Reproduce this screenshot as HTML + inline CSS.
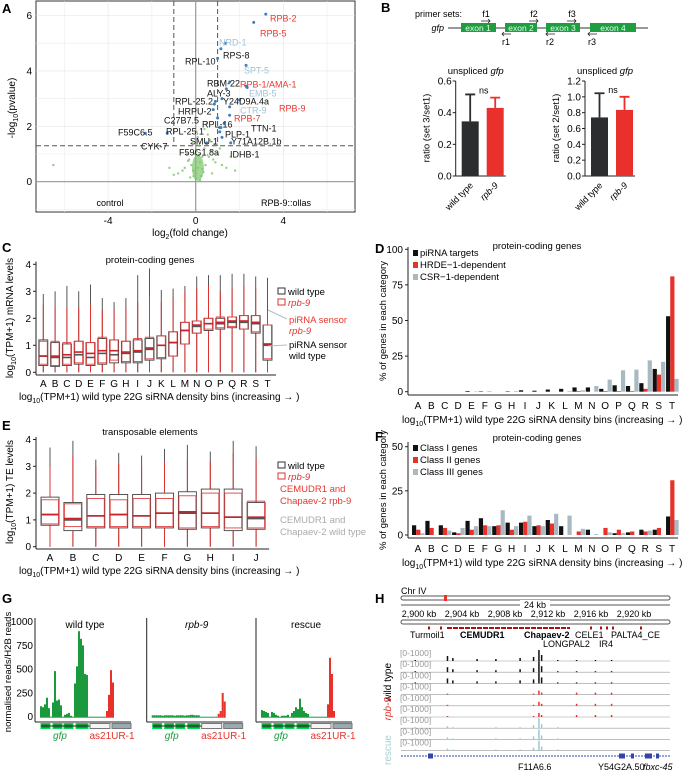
<!DOCTYPE html>
<html><head><meta charset="utf-8"><style>
body{margin:0;background:#fff}
svg{display:block;font-family:"Liberation Sans",Arial,sans-serif}
</style></head><body>
<svg id="fig" width="683" height="772" viewBox="0 0 683 772" xmlns="http://www.w3.org/2000/svg">
<g font-weight="bold" font-size="13">
<text x="2" y="13">A</text><text x="381" y="12">B</text><text x="2" y="252">C</text><text x="375" y="253">D</text><text x="2" y="430">E</text><text x="375" y="441">F</text><text x="2" y="603">G</text><text x="375" y="603">H</text>
</g>
<g>
<rect x="36" y="1" width="319" height="211" fill="none" stroke="#333" stroke-width="1"/>
<g id="Agrid" stroke="#ececec" stroke-width="0.6"></g>
<text x="190" y="236" font-size="10" text-anchor="middle">log<tspan font-size="7" dy="3">2</tspan><tspan dy="-3">(fold change)</tspan></text>
<text transform="translate(15,108) rotate(-90)" font-size="10" text-anchor="middle">-log<tspan font-size="7" dy="3">10</tspan><tspan dy="-3">(pvalue)</tspan></text>
<text x="110" y="206" font-size="9" text-anchor="middle">control</text>
<text x="286" y="206" font-size="9" text-anchor="middle">RPB-9::ollas</text>
<g id="Amarks"></g>
</g>
<g font-size="9">
<text x="415" y="17">primer sets:</text>
<text x="444" y="31" font-style="italic" text-anchor="end">gfp</text>
<line x1="448" y1="28" x2="648" y2="28" stroke="#333"/>
<rect x="461" y="23" width="35" height="9" fill="#1e9e3e"/><text x="478" y="31" fill="#dfe" text-anchor="middle" font-size="8.5">exon 1</text>
<rect x="505" y="23" width="32" height="9" fill="#1e9e3e"/><text x="521" y="31" fill="#dfe" text-anchor="middle" font-size="8.5">exon 2</text>
<rect x="546" y="23" width="34" height="9" fill="#1e9e3e"/><text x="563" y="31" fill="#dfe" text-anchor="middle" font-size="8.5">exon 3</text>
<rect x="590" y="23" width="46" height="9" fill="#1e9e3e"/><text x="613" y="31" fill="#dfe" text-anchor="middle" font-size="8.5">exon 4</text>
<text x="486" y="17" text-anchor="middle">f1</text><text x="534" y="17" text-anchor="middle">f2</text><text x="572" y="17" text-anchor="middle">f3</text>
<text x="506" y="45" text-anchor="middle">r1</text><text x="550" y="45" text-anchor="middle">r2</text><text x="592" y="45" text-anchor="middle">r3</text>
<path d="M481 21h9m-2-2l2 2-2 2M529 21h9m-2-2l2 2-2 2M567 21h9m-2-2l2 2-2 2M502 34h9m-7-2l-2 2 2 2M546 34h9m-7-2l-2 2 2 2M588 34h9m-7-2l-2 2 2 2" stroke="#222" fill="none" stroke-width="0.8"/>
</g>
<g id="Bcharts" font-size="9"></g>
<g id="Cplot" font-size="9"></g>
<g id="Eplot" font-size="9"></g>
<g id="Dplot" font-size="9"></g>
<g id="Fplot" font-size="9"></g>
<g id="Gplot" font-size="9"></g>
<g id="Hplot" font-size="8"></g>
</svg>
<script>
const NS='http://www.w3.org/2000/svg';
function mk(parent,tag,a,txt){const e=document.createElementNS(NS,tag);for(const k in a)e.setAttribute(k,a[k]);if(txt!==undefined)e.textContent=txt;parent.appendChild(e);return e;}
const $=id=>document.getElementById(id);

const volcLabeledFC=[3.2,2.65,1.35,1.15,1.0,2.3,1.55,2.3,1.4,2.35,1.2,2.0,1.55,1.55,1.0,1.3,1.15,1.1,1.1,1.2,1.6,0.5,-1.3,-2.3,0.9,0.85,0.8];
const volcLabeledP=[6.05,5.75,5.0,4.8,4.45,4.2,3.6,3.45,3.35,3.4,3.0,2.95,2.7,2.4,2.3,2.1,1.95,1.95,1.8,1.6,1.4,1.4,1.75,1.75,2.9,2.8,2.6];
const volcLabeledCol=['r','r','b','k','k','b','k','r','k','b','k','r','b','r','k','k','k','k','k','k','k','k','k','k','k','k','k'];
const volcCloudFC=[0,0.1,-0.1,0.2,-0.2,0.3,-0.3,0.05,0.15,-0.05,0.4,-0.4,0.5,-0.5,0.6,0.7,0.8,-0.6,0.25,-0.25,0.35,0.1,-0.15,0.45,0.9,1.0,1.2,-0.8,0.55,0.65,0.0,0.2,-0.1,0.3,0.75,1.4,-1.0,1.1,0.85,-0.35,0.15,0.05,0.4,-6.5,1.6,1.8,-1.2,0.5];
const volcCloudP=[0.3,0.5,0.4,0.7,0.6,0.9,0.8,1.1,1.3,1.0,1.2,1.0,1.4,0.5,0.9,1.1,0.8,0.4,0.2,0.15,0.35,1.6,1.4,0.6,0.7,1.0,0.6,0.3,1.7,1.5,0.1,0.05,0.2,0.45,0.3,0.5,0.25,1.2,1.35,0.75,0.95,1.8,1.9,0.6,0.9,0.4,0.5,2.1];
const volcXTicks=[-4,0,4];const volcYTicks=[0,2,4,6];
const labelTexts=['RPB-2','RPB-5','NRD-1','RPS-8','RPL-10','SPT-5','RBM-22','RPB-1/AMA-1','ALY-3','EMB-5','Y24D9A.4a','RPB-9','CTR-9','RPB-7','RPL-16','TTN-1','PLP-1','RPL-25.1','SMU-1','Y71A12B.1b','IDHB-1','F59G1.8a','CYK-7','F59C6.5','RPL-25.2','HRPU-2','C27B7.5'];
const labelPos=[[270,18],[260,33],[219,42],[223,55],[185,61],[244,70],[207,83],[240,84],[207,93],[249,93],[223,101],[279,108],[240,110],[234,118],[202,124],[251,128],[225,134],[166,131],[190,141],[231,141],[230,154],[179,152],[141,146],[118,132],[175,101],[178,111],[164,120]];
const ax=x=>195.7+21.9*x, ay=y=>181.7-27.7*y;
const colMap={r:'#e8372f',b:'#9ec3dc',k:'#111'};
(function(){
 const g=$('Agrid'),m=$('Amarks');
 [-6,-2,2,6].forEach(v=>mk(g,'line',{x1:ax(v),x2:ax(v),y1:1,y2:212}));
 [-1,1,3,5].forEach(v=>mk(g,'line',{x1:36,x2:355,y1:ay(v),y2:ay(v)}));
 volcXTicks.forEach(v=>{mk(g,'line',{x1:ax(v),x2:ax(v),y1:1,y2:212,stroke:'#e4e4e4'});const t=mk(m,'text',{x:ax(v),y:224,'text-anchor':'middle','font-size':10},v);});
 volcYTicks.forEach(v=>{mk(g,'line',{x1:36,x2:355,y1:ay(v),y2:ay(v),stroke:'#e4e4e4'});const t=mk(m,'text',{x:32,y:ay(v)+3.5,'text-anchor':'end','font-size':10},v);});
 mk(m,'line',{x1:ax(0),x2:ax(0),y1:1,y2:212,stroke:'#999','stroke-width':1.2});
 mk(m,'line',{x1:36,x2:355,y1:ay(0),y2:ay(0),stroke:'#999','stroke-width':1.2});
 [-1,1].forEach(v=>mk(m,'line',{x1:ax(v),x2:ax(v),y1:1,y2:ay(1.3),stroke:'#555','stroke-dasharray':'5,3'}));
 mk(m,'line',{x1:36,x2:355,y1:ay(1.3),y2:ay(1.3),stroke:'#555','stroke-dasharray':'5,3'});
 mk(m,'ellipse',{cx:ax(0.1),cy:ay(0.5),rx:6,ry:13,fill:'#7cc46a',opacity:0.7});
 volcCloudFC.forEach((v,i)=>{const c=mk(m,'circle',{cx:ax(v),cy:ay(volcCloudP[i]),r:1.2,fill:'#7cc46a',opacity:0.8});
  
  });
 volcLabeledFC.forEach((v,i)=>{const c=mk(m,'circle',{cx:ax(v),cy:ay(volcLabeledP[i]),r:1.5,fill:'#3d7fc0'});
  
  });
 labelTexts.forEach((s,i)=>{const t=mk(m,'text',{x:labelPos[i][0],y:labelPos[i][1]+3.5,'font-size':9,fill:colMap[volcLabeledCol[i]]},s);
  
  });
})();

const bSamples=['wild type','rpb-9'];
const bMean1=[0.345,0.43], bErr1=[0.515,0.495];
const bMean2=[0.74,0.835], bErr2=[1.045,1.0];
const bTicks1=['0.0','0.2','0.4','0.6'], bTicks2=['0.0','0.2','0.4','0.6','0.8','1.0','1.2'];
(function(){
 const g=$('Bcharts');
 function chart(x0,max,ticks,means,errs,ylab){
  const by=v=>176-v/max*95;
  mk(g,'line',{x1:x0,x2:x0,y1:by(max),y2:176,stroke:'#222'});
  mk(g,'line',{x1:x0,x2:x0+50,y1:176,y2:176,stroke:'#222'});
  ticks.forEach(t=>{mk(g,'line',{x1:x0-3,x2:x0,y1:by(+t),y2:by(+t),stroke:'#222'});mk(g,'text',{x:x0-4,y:by(+t)+3.5,'text-anchor':'end','font-size':10},t);});
  means.forEach((v,i)=>{const bx=x0+6+i*25,col=i?'#e8312a':'#2b2d2e';
   const r=mk(g,'rect',{x:bx,y:by(v),width:17,height:176-by(v),fill:col});
   
   
   mk(g,'path',{d:`M${bx+8.5} ${by(v)}V${by(errs[i])}m-5 0h10`,stroke:col,'stroke-width':1.8,fill:'none'});
   mk(g,'text',{x:bx+12,y:186,'text-anchor':'end','font-size':9,transform:`rotate(-45 ${bx+12} 186)`,'font-style':i?'italic':'normal'},bSamples[i]);
  });
  mk(g,'text',{x:x0+28,y:by(errs[1])-4,'text-anchor':'middle','font-size':9},'ns');
  const tt=mk(g,'text',{x:x0+20,y:74,'text-anchor':'middle','font-size':9.5},'unspliced ');mk(tt,'tspan',{'font-style':'italic'},'gfp');
  mk(g,'text',{x:0,y:0,transform:`translate(${x0-26},128) rotate(-90)`,'text-anchor':'middle','font-size':9.5},ylab);
 }
 chart(455.7,0.6,bTicks1,bMean1,bErr1,'ratio (set 3/set1)');
 chart(585,1.2,bTicks2,bMean2,bErr2,'ratio (set 2/set1)');
})();

const cBins=['A','B','C','D','E','F','G','H','I','J','K','L','M','N','O','P','Q','R','S','T'];
const cWtMed=[0.6,0.55,0.55,0.65,0.55,0.7,0.65,0.7,0.75,0.85,1.0,1.1,1.55,1.7,1.8,1.8,1.85,1.85,1.8,1.0];
const cWtQ1=[0.25,0.22,0.25,0.3,0.25,0.3,0.35,0.35,0.35,0.45,0.5,0.6,1.05,1.45,1.55,1.6,1.65,1.6,1.45,0.45];
const cWtQ3=[1.2,1.1,1.05,1.15,1.1,1.25,1.2,1.15,1.2,1.25,1.35,1.5,1.85,1.9,2.0,2.0,2.05,2.1,2.1,1.75];
const cWtTop=[2.9,3.0,3.2,3.0,3.25,2.75,2.6,2.75,3.6,3.85,3.05,3.1,3.2,3.55,3.6,3.6,3.65,3.65,3.55,3.5];
const cRbMed=[0.6,0.6,0.65,0.75,0.7,0.8,0.8,0.75,0.8,0.9,1.0,1.1,1.55,1.75,1.8,1.85,1.9,1.9,1.85,1.05];
const cRbQ1=[0.3,0.25,0.3,0.35,0.3,0.35,0.45,0.4,0.4,0.5,0.55,0.6,1.05,1.45,1.6,1.65,1.7,1.6,1.5,0.5];
const cRbQ3=[1.15,1.15,1.1,1.15,1.1,1.3,1.2,1.15,1.25,1.3,1.35,1.5,1.85,1.9,2.0,2.05,2.05,2.1,2.1,1.75];
const cRbTop=[2.5,2.4,2.4,2.4,2.5,2.3,2.3,2.4,2.6,2.8,2.6,2.8,3.0,3.1,3.2,3.0,3.1,3.2,3.1,2.3];
const cYTicks=[0,1,2,3,4];
const eBins=['A','B','C','D','E','F','G','H','I','J'];
const eWtMed=[1.2,1.0,1.15,1.2,1.15,1.25,1.3,1.25,1.1,1.05];
const eWtQ1=[0.8,0.6,0.7,0.7,0.7,0.7,0.65,0.7,0.6,0.65];
const eWtQ3=[1.85,1.65,1.95,1.95,1.95,2.0,2.05,2.15,2.15,1.65];
const eWtTop=[3.7,3.95,3.25,3.5,3.4,3.65,3.8,3.55,3.95,3.75];
const eRbMed=[1.2,1.05,1.15,1.2,1.15,1.25,1.25,1.25,1.1,1.1];
const eRbQ1=[0.85,0.75,0.75,0.75,0.75,0.75,0.7,0.75,0.7,0.7];
const eRbQ3=[1.75,1.6,1.8,1.75,1.8,1.8,1.9,2.0,2.0,1.7];
const eRbTop=[3.0,3.4,3.0,3.1,3.0,3.2,3.3,3.2,3.5,3.3];
function boxPlot(gid,bins,xs,ys,w,wt,rb,title,ylabel,yTop,axisY,titleY){
 const g=$(gid);
 mk(g,'line',{x1:36,x2:36,y1:ys(4.1),y2:axisY,stroke:'#222'});
 mk(g,'line',{x1:36,x2:xs(bins.length-1)+w/2+4,y1:axisY,y2:axisY,stroke:'#222'});
 cYTicks.forEach(v=>{mk(g,'line',{x1:33,x2:36,y1:ys(v),y2:ys(v),stroke:'#222'});mk(g,'text',{x:31,y:ys(v)+3.5,'text-anchor':'end','font-size':10},v);});
 bins.forEach((b,i)=>{
  const x=xs(i);
  const l=mk(g,'text',{x:x,y:axisY+12,'text-anchor':'middle','font-size':10},b);
  
  
  mk(g,'line',{x1:x,x2:x,y1:ys(0),y2:ys(wt[3][i]),stroke:'#555','stroke-width':1});
  mk(g,'line',{x1:x,x2:x,y1:ys(0),y2:ys(rb[3][i]),stroke:'#d33','stroke-width':1});
  const bw=mk(g,'rect',{x:x-w/2,y:ys(wt[2][i]),width:w,height:ys(wt[1][i])-ys(wt[2][i]),fill:'#fff',stroke:'#444','stroke-width':0.9});
  
  
  const br=mk(g,'rect',{x:x-w/2+0.5,y:ys(rb[2][i]),width:w-1,height:ys(rb[1][i])-ys(rb[2][i]),fill:'none',stroke:'#e04040','stroke-width':0.9});
  
  
  mk(g,'line',{x1:x-w/2,x2:x+w/2,y1:ys(wt[0][i]),y2:ys(wt[0][i]),stroke:'#555','stroke-width':1.6});
  mk(g,'line',{x1:x-w/2,x2:x+w/2,y1:ys(rb[0][i]),y2:ys(rb[0][i]),stroke:'#c8232a','stroke-width':1.6});
 });
 mk(g,'text',{x:150,y:titleY,'text-anchor':'middle','font-size':9.5},title);
 const xl=mk(g,'text',{x:19,y:axisY+25,'font-size':10},'log');mk(xl,'tspan',{'font-size':7,dy:3},'10');mk(xl,'tspan',{dy:-3},'(TPM+1) wild type 22G siRNA density bins (increasing \u2192 )');
 const yl=mk(g,'text',{transform:`translate(13,${yTop}) rotate(-90)`,'text-anchor':'middle','font-size':10},'log');mk(yl,'tspan',{'font-size':7,dy:3},'10');mk(yl,'tspan',{dy:-3},ylabel);
}
boxPlot('Cplot',cBins,i=>43.3+i*11.8,v=>372.3-27*v,9,[cWtMed,cWtQ1,cWtQ3,cWtTop],[cRbMed,cRbQ1,cRbQ3,cRbTop],'protein-coding genes','(TPM+1) mRNA levels',318,375,263);
boxPlot('Eplot',eBins,i=>50+i*22.9,v=>546.7-26.8*v,18,[eWtMed,eWtQ1,eWtQ3,eWtTop],[eRbMed,eRbQ1,eRbQ3,eRbTop],'transposable elements','(TPM+1) TE levels',492,549,435);
(function(){
 const g=$('Cplot');
 mk(g,'rect',{x:278,y:288,width:7,height:6,fill:'none',stroke:'#333'});mk(g,'text',{x:288,y:295,'font-size':9.5},'wild type');
 mk(g,'rect',{x:278,y:299,width:7,height:6,fill:'none',stroke:'#d33'});mk(g,'text',{x:288,y:306,'font-size':9.5,'font-style':'italic',fill:'#d33'},'rpb-9');
 mk(g,'text',{x:289,y:323,'font-size':9.5,fill:'#e8372f'},'piRNA sensor');mk(g,'text',{x:289,y:334,'font-size':9.5,'font-style':'italic',fill:'#e8372f'},'rpb-9');
 mk(g,'text',{x:289,y:348,'font-size':9.5},'piRNA sensor');mk(g,'text',{x:289,y:359,'font-size':9.5},'wild type');
 mk(g,'path',{d:'M268 310L287 319M268 346L287 345',stroke:'#bbb',fill:'none'});
 const e=$('Eplot');
 mk(e,'rect',{x:278,y:462,width:7,height:6,fill:'none',stroke:'#333'});mk(e,'text',{x:288,y:469,'font-size':9.5},'wild type');
 mk(e,'rect',{x:278,y:473,width:7,height:6,fill:'none',stroke:'#d33'});mk(e,'text',{x:288,y:480,'font-size':9.5,'font-style':'italic',fill:'#d33'},'rpb-9');
 mk(e,'text',{x:280,y:492,'font-size':9.5,fill:'#e8372f'},'CEMUDR1 and');mk(e,'text',{x:280,y:504,'font-size':9.5,fill:'#e8372f'},'Chapaev-2 rpb-9');
 mk(e,'text',{x:280,y:523,'font-size':9.5,fill:'#aaa'},'CEMUDR1 and');mk(e,'text',{x:280,y:535,'font-size':9.5,fill:'#aaa'},'Chapaev-2 wild type');
})();

const dBins=cBins;
const dPirna=[0,0,0,0,0.5,0.3,0,0.3,1,0.7,1.5,2,3,3,2,4.5,4,6,16,53];
const dHrde=[0,0,0,0,0,0,0,0,0,0,0,0,0.5,0,0.5,0.5,0.5,2,12,81];
const dCsr=[0,0,0,0,0.3,0.5,0,0.5,0,0,0,0.5,1,4,8.5,15,15.5,22,21,9];
const dTicks=[0,25,50,75,100];
const fClass1=[5.5,8,5.5,1.5,8,9.5,5,7,7,5,8.5,5,0,3,0,1,1.5,3,3,10.5];
const fClass2=[3,4,4,1,3,5.5,5.5,3,7.5,5.5,6.5,0,2,0,4,3,2,2,4,31];
const fClass3=[1,0,2.5,4,5,5,14,5,11,5,12,11,3.5,0.5,1.5,1,0,2.5,0,8.5];
const fTicks=[0,25,50];
function barPlot(gid,series,names,ticks,ys,axisY,topY,titleY){
 const g=$(gid),cols=['#111','#e8312a','#a9b9c2'],xs=i=>416+i*13.37;
 mk(g,'line',{x1:408,x2:408,y1:topY,y2:axisY,stroke:'#222'});
 mk(g,'line',{x1:408,x2:678,y1:axisY,y2:axisY,stroke:'#222'});
 ticks.forEach(v=>{mk(g,'line',{x1:405,x2:408,y1:ys(v),y2:ys(v),stroke:'#222'});mk(g,'text',{x:403,y:ys(v)+3.5,'text-anchor':'end','font-size':10},v);});
 dBins.forEach((b,i)=>{mk(g,'text',{x:xs(i)+2,y:axisY+14,'text-anchor':'middle','font-size':10},b);
  series.forEach((s,k)=>{const r=mk(g,'rect',{x:xs(i)-4+k*4.2,y:ys(s[i]),width:4.2,height:Math.max(0,ys(0)-ys(s[i])),fill:cols[k]});
   
   });});
 names.forEach((n,k)=>{mk(g,'rect',{x:413,y:topY+3+k*12,width:5,height:6,fill:cols[k]});mk(g,'text',{x:420,y:topY+9+k*12,'font-size':9.5},n);});
 mk(g,'text',{x:537,y:titleY,'text-anchor':'middle','font-size':9.5},'protein-coding genes');
 const xl=mk(g,'text',{x:402,y:axisY+28,'font-size':10},'log');mk(xl,'tspan',{'font-size':7,dy:3},'10');mk(xl,'tspan',{dy:-3},'(TPM+1) wild type 22G siRNA density bins (increasing \u2192 )');
 mk(g,'text',{transform:`translate(386,${(topY+axisY)/2}) rotate(-90)`,'text-anchor':'middle','font-size':9.5},'% of genes in each category');
}
barPlot('Dplot',[dPirna,dHrde,dCsr],['piRNA targets','HRDE\u22121-dependent','CSR\u22121-dependent'],dTicks,v=>391.7-1.424*v,395,247,249);
barPlot('Fplot',[fClass1,fClass2,fClass3],['Class I genes','Class II genes','Class III genes'],fTicks,v=>535-1.766*v,538,442,441);

const gWt=[110,100,130,200,90,0,150,480,170,180,120,0,20,30,40,10,0,350,530,900,820,750,450,440,0,0,0,0,0,0,0,0,0,60,230,490,360];
const gRpb9=[15,15,15,15,15,10,15,15,15,15,15,10,15,15,15,15,10,15,15,20,20,15,15,15,0,0,0,0,0,0,0,0,0,30,60,250,160];
const gRescue=[70,60,50,40,0,50,40,20,10,0,10,10,10,20,0,40,60,100,80,190,100,60,40,30,0,0,0,0,0,0,0,0,0,130,620,450,60];
const gTicks=[0,250,500,750,1000];
const gSamples=['wild type','rpb-9','rescue'];
(function(){
 const g=$('Gplot'),gy=v=>716.7-0.095*v,offs=[0,111.7,221],data=[gWt,gRpb9,gRescue];
 gTicks.forEach(v=>mk(g,'text',{x:33,y:gy(v)+3.5,'text-anchor':'end','font-size':10},v));
 mk(g,'text',{transform:'translate(11,672) rotate(-90)','text-anchor':'middle','font-size':9.5},'normalised reads/H2B reads');
 data.forEach((d,s)=>{const o=offs[s];
  mk(g,'line',{x1:35+o,x2:35+o,y1:618,y2:722,stroke:'#222'});
  mk(g,'line',{x1:35+o,x2:131+o,y1:722,y2:722,stroke:'#222'});
  mk(g,'text',{x:85+o,y:628,'text-anchor':'middle','font-size':10,'font-style':s==1?'italic':'normal'},gSamples[s]);
  d.forEach((v,i)=>{const x=40+o+i*2;const r=mk(g,'rect',{x:x,y:gy(v),width:2,height:gy(0)-gy(v)+1,fill:i>=33?'#e8312a':'#1a9a3c'});
   
   });
  [[41,50],[53,62],[64,73],[76,88]].forEach(e=>mk(g,'rect',{x:e[0]+o,y:723.5,width:e[1]-e[0],height:5,fill:'#1a9a3c',stroke:'#0d5'}));
  mk(g,'line',{x1:41+o,x2:90+o,y1:726,y2:726,stroke:'#222'});
  mk(g,'rect',{x:90+o,y:723.5,width:20,height:5,fill:'#f5f5f5',stroke:'#777'});
  mk(g,'rect',{x:112+o,y:723.5,width:19,height:5,fill:'#9aaab3',stroke:'#777'});
  mk(g,'text',{x:60+o,y:739,'font-style':'italic',fill:'#1a9a3c','font-size':10,'text-anchor':'middle'},'gfp');
  mk(g,'text',{x:112+o,y:739,fill:'#e8312a','font-size':10,'text-anchor':'middle'},'as21UR-1');
 });
})();

const hTickLabels=['2,900 kb','2,904 kb','2,908 kb','2,912 kb','2,916 kb','2,920 kb'];
const hPeakPos=[0.05,0.17,0.19,0.28,0.35,0.44,0.49,0.51,0.52,0.58,0.65,0.72,0.78];
const hWtH=[1,5,3,2,2,3,4,11,6,1,1,1,1];
const hRbH=[0,1,0,0,0,0,1,4,2,0,2,2,2];
const hResH=[1,2,1,0,1,1,3,10,4,1,0,0,0];
(function(){
 const g=$('Hplot'),x0=401,x1=670,hx=f=>x0+f*(x1-x0);
 mk(g,'text',{x:401,y:594,'font-size':9},'Chr IV');
 mk(g,'rect',{x:401,y:596,width:269,height:4,rx:2,fill:'#fff',stroke:'#555'});
 mk(g,'rect',{x:444,y:595,width:3,height:6,fill:'#e8312a'});
 mk(g,'line',{x1:401,x2:670,y1:605,y2:605,stroke:'#555'});
 mk(g,'rect',{x:520,y:600,width:30,height:9,fill:'#fff'});mk(g,'text',{x:535,y:608,'text-anchor':'middle','font-size':9},'24 kb');
 hTickLabels.forEach((t,i)=>mk(g,'text',{x:419+i*43,y:617,'text-anchor':'middle','font-size':9},t));
 mk(g,'rect',{x:401,y:620,width:269,height:4,rx:2,fill:'#fff',stroke:'#555'});
 mk(g,'line',{x1:447,x2:570,y1:628,y2:628,stroke:'#a11','stroke-width':2,'stroke-dasharray':'5,1'});
 [428,440,590,600,606,612,640].forEach(x=>mk(g,'rect',{x:x,y:626.5,width:2,height:3,fill:'#a11'}));
 mk(g,'text',{x:410,y:638,'font-size':9},'Turmoil1');mk(g,'text',{x:460,y:638,'font-size':9,'font-weight':'bold'},'CEMUDR1');
 mk(g,'text',{x:524,y:638,'font-size':9,'font-weight':'bold'},'Chapaev-2');mk(g,'text',{x:575,y:638,'font-size':9},'CELE1');mk(g,'text',{x:611,y:638,'font-size':9},'PALTA4_CE');
 mk(g,'text',{x:543,y:647,'font-size':9},'LONGPAL2');mk(g,'text',{x:599,y:647,'font-size':9},'IR4');
 const cols=['#111','#111','#111','#e8312a','#e8312a','#e8312a','#9cc9d4','#9cc9d4','#9cc9d4'];
 for(let t=0;t<9;t++){const yb=660+t*11.2;
  mk(g,'line',{x1:401,x2:670,y1:yb+1,y2:yb+1,stroke:'#999','stroke-width':0.6});
  mk(g,'text',{x:400,y:yb-4,fill:'#999','font-size':8.5},'[0-1000]');
  const hs=t<3?hWtH:(t<6?hRbH:hResH);
  hPeakPos.forEach((p,i)=>{const r=mk(g,'rect',{x:hx(p),y:yb+1-hs[i],width:1.5,height:hs[i],fill:cols[t]});
   
   });
 }
 mk(g,'text',{transform:'translate(391,663) rotate(-90)','text-anchor':'end','font-size':10},'wild type');
 mk(g,'text',{transform:'translate(391,697) rotate(-90)','text-anchor':'end','font-size':10,'font-style':'italic',fill:'#e8312a'},'rpb-9');
 mk(g,'text',{transform:'translate(391,735) rotate(-90)','text-anchor':'end','font-size':10,fill:'#a9cfd8'},'rescue');
 mk(g,'line',{x1:401,x2:670,y1:756,y2:756,stroke:'#3344aa','stroke-dasharray':'2,1'});
 [[428,433],[619,625],[631,634],[645,652],[656,659]].forEach(e=>mk(g,'rect',{x:e[0],y:753.5,width:e[1]-e[0],height:5,fill:'#3344aa'}));
 mk(g,'text',{x:518,y:770,'font-size':9},'F11A6.6');mk(g,'text',{x:598,y:770,'font-size':9},'Y54G2A.50');mk(g,'text',{x:643,y:770,'font-size':9,'font-style':'italic'},'fbxc-45');
})();
</script>
</body></html>
